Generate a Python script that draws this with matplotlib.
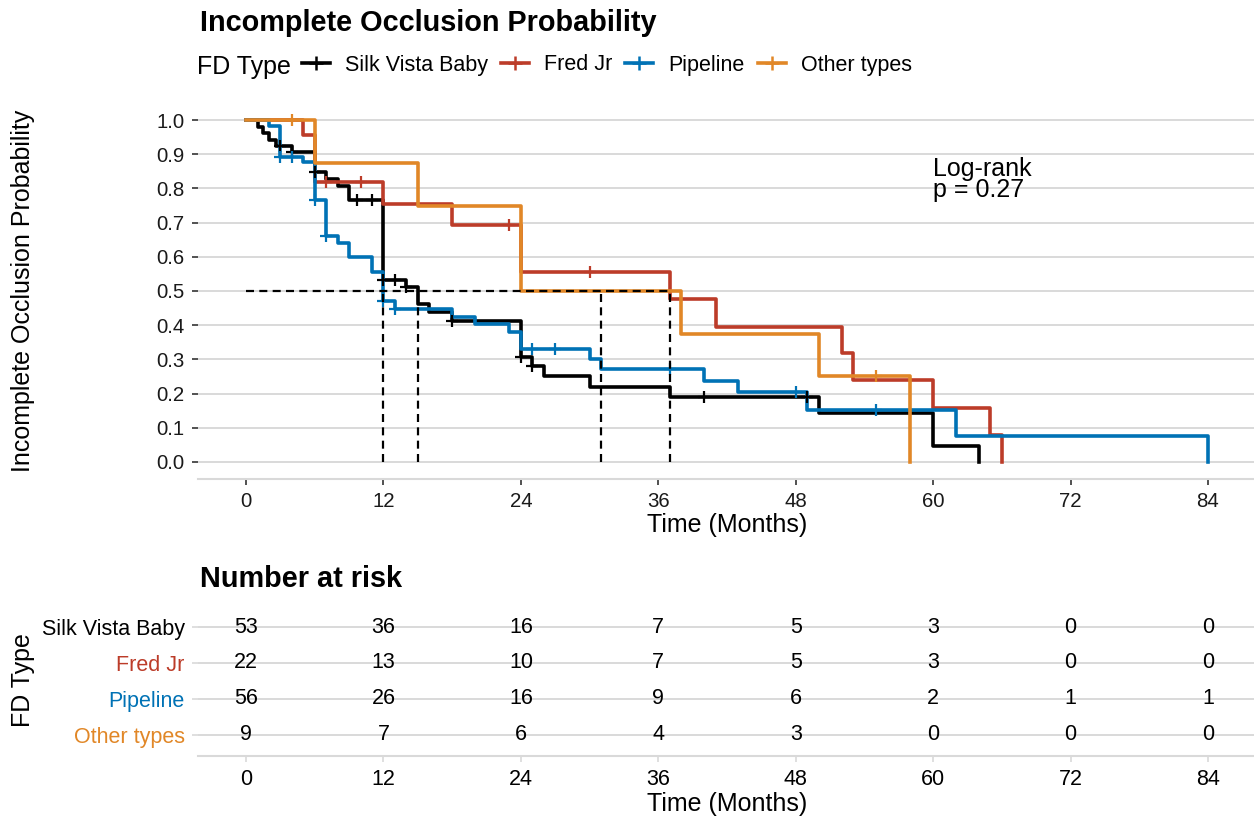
import numpy as np
import matplotlib.pyplot as plt
from matplotlib.lines import Line2D

plt.rcParams['font.family'] = ['Liberation Sans', 'DejaVu Sans']

groups = ["Silk Vista Baby", "Fred Jr", "Pipeline", "Other types"]
colors = ["#000000", "#BC3C29", "#0072B5", "#E18727"]

# Kaplan-Meier steps (time in months, probability after the step)
svb_time = [0, 1, 1.5, 2, 2.6, 4, 6, 7, 8, 9, 12, 14, 15, 16, 18, 24, 25, 26, 30, 37, 50, 60, 64]
svb_surv = [1.0, 0.981, 0.962, 0.943, 0.925, 0.906, 0.849, 0.828, 0.807, 0.766, 0.532, 0.511,
            0.462, 0.440, 0.412, 0.308, 0.281, 0.251, 0.219, 0.190, 0.142, 0.047, 0.0]
svb_cens = [3, 4, 6, 9.7, 11, 12, 13, 14, 18, 24, 25, 40, 49]

fj_time = [0, 5, 6, 12, 18, 24, 37, 41, 52, 53, 60, 65, 66]
fj_surv = [1.0, 0.955, 0.818, 0.754, 0.692, 0.555, 0.476, 0.396, 0.320, 0.240, 0.159, 0.080, 0.0]
fj_cens = [7, 10, 23, 30]

pl_time = [0, 2, 3, 5, 6, 7, 8, 9, 11, 12, 13, 18, 20, 23, 24, 30, 31, 40, 43, 49, 62, 84]
pl_surv = [1.0, 0.982, 0.892, 0.877, 0.766, 0.661, 0.639, 0.600, 0.555, 0.472, 0.447, 0.425,
           0.403, 0.381, 0.329, 0.300, 0.273, 0.238, 0.205, 0.153, 0.077, 0.0]
pl_cens = [3, 4, 6, 7, 12, 13, 25, 27, 37, 48, 55]

ot_time = [0, 6, 15, 24, 38, 50, 58]
ot_surv = [1.0, 0.875, 0.75, 0.5, 0.375, 0.25, 0.0]
ot_cens = [4, 55]

median_times = [15, 37, 12, 31]

risk_times = [0, 12, 24, 36, 48, 60, 72, 84]
risk_svb = [53, 36, 16, 7, 5, 3, 0, 0]
risk_fj = [22, 13, 10, 7, 5, 3, 0, 0]
risk_pl = [56, 26, 16, 9, 6, 2, 1, 1]
risk_ot = [9, 7, 6, 4, 3, 0, 0, 0]

GRID = "#D9D9D9"
W, H = 1254, 819


def step_value(times, surv, t):
    i = np.searchsorted(times, t, side="right") - 1
    return surv[i]


def plot():
    fig = plt.figure(figsize=(W / 100, H / 100), dpi=100)
    ax = fig.add_axes([198 / W, (H - 479) / H, 1058 / W, 376 / H])
    rax = fig.add_axes([198 / W, (H - 756) / H, 1058 / W, 150.4 / H])

    curves = [(svb_time, svb_surv, svb_cens), (fj_time, fj_surv, fj_cens),
              (pl_time, pl_surv, pl_cens), (ot_time, ot_surv, ot_cens)]

    for (t, s, c), col in zip(curves, colors):
        ax.step(t, s, where="post", color=col, lw=2.6, zorder=3)
        cy = [step_value(t, s, x) for x in c]
        ax.plot(c, cy, ls="none", marker="+", ms=9, mew=1.6, color=col, zorder=4)

    # median lines
    dash = (0, (3.6, 2.4))
    ax.plot([0, max(median_times)], [0.5, 0.5], color="black", lw=1.6, ls=dash, zorder=5)
    for m in median_times:
        ax.plot([m, m], [0, 0.5], color="black", lw=1.6, ls=dash, zorder=5)

    ax.text(60, 0.893, "Log-rank\np = 0.27", fontsize=18, va="top", linespacing=0.85)

    ax.set_xlim(-4.2, 88.2)
    ax.set_ylim(-0.05, 1.05)
    ax.set_xticks(risk_times)
    ax.set_yticks(np.arange(0, 1.01, 0.1))
    ax.set_yticklabels([f"{v:.1f}" for v in np.arange(0, 1.01, 0.1)])

    for a in (ax, rax):
        a.grid(axis="y", color=GRID, lw=1.4)
        a.set_axisbelow(True)
        for sp in ("top", "right", "left"):
            a.spines[sp].set_visible(False)
        a.spines["bottom"].set_color(GRID)
        a.spines["bottom"].set_linewidth(1.5)
        a.set_xlim(-4.2, 88.2)
        a.set_xticks(risk_times)

    ax.tick_params(axis="both", length=4, width=1.2, color="#333333",
                   labelsize=14.7, labelcolor="#1a1a1a", pad=5.5)

    # risk table
    rows = [4, 3, 2, 1]
    rax.set_ylim(0.4, 4.6)
    rax.set_yticks(rows)
    rax.set_yticklabels(groups)
    for lab, col in zip(rax.get_yticklabels(), colors):
        lab.set_color(col)
    rax.tick_params(axis="both", length=4, width=1.2, color=GRID,
                    labelsize=15.5, pad=5.5)
    for y, vals in zip(rows, [risk_svb, risk_fj, risk_pl, risk_ot]):
        for t, n in zip(risk_times, vals):
            rax.text(t, y, str(n), ha="center", va="center", fontsize=15.5)

    # titles and labels
    fig.text(200 / W, 1 - 31 / H, "Incomplete Occlusion Probability",
             fontsize=20.8, fontweight="bold", va="baseline")
    fig.text(200 / W, 1 - 587 / H, "Number at risk",
             fontsize=20.8, fontweight="bold", va="baseline")
    fig.text(23 / W, 1 - 291 / H, "Incomplete Occlusion Probability",
             fontsize=18, rotation=90, ha="center", va="center")
    fig.text(23 / W, 1 - 680 / H, "FD Type",
             fontsize=18, rotation=90, ha="center", va="center")
    fig.text(727 / W, 1 - 532 / H, "Time (Months)", fontsize=18,
             ha="center", va="baseline")
    fig.text(727 / W, 1 - 811 / H, "Time (Months)", fontsize=18,
             ha="center", va="baseline")

    # legend
    fig.text(197 / W, 1 - 74 / H, "FD Type", fontsize=18, va="baseline")
    handles = [Line2D([], [], color=c, lw=2.6, marker="+", ms=10, mew=1.8) for c in colors]
    fig.legend(handles, groups, loc="center left", bbox_to_anchor=(302 / W, 1 - 65 / H),
               ncol=4, frameon=False, fontsize=15.5, handlelength=1.3,
               handletextpad=0.7, columnspacing=0.6, borderaxespad=0, borderpad=0)

    fig.savefig("out.png", dpi=100)


if __name__ == "__main__":
    plot()
